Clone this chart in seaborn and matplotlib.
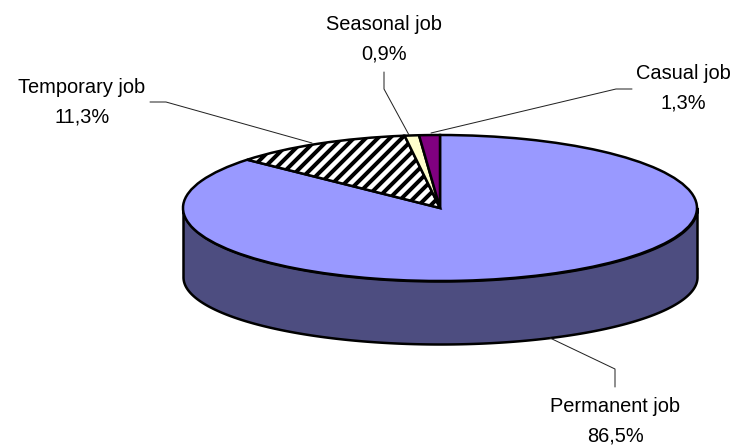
import numpy as np
import seaborn as sns
from matplotlib import pyplot as plt

jobs = ['Permanent job', 'Temporary job', 'Seasonal job', 'Casual job']
shares = [86.5, 11.3, 0.9, 1.3]
top_colors = ['#9999FF', '#FFFFFF', '#FFFFCC', '#800080']
side_color = '#4D4D80'

# label centres and leader lines, in pixels of the image
label_pos = [(615, 421), (82, 102), (384, 39), (683, 88)]
leaders = [
    [(615, 387), (615, 369), (550, 338)],
    [(150, 102), (166, 102), (312, 143)],
    [(384, 72), (384, 89), (409, 135)],
    [(632, 89), (616, 89), (431, 133)],
]

W, H = 733, 447
cx, cy, rx, ry = 440, 208, 257, 73


def to_unit(px, py):
    return (px - cx) / rx, (cy - py) / ry


sns.set_theme(style='white')
plt.rcParams['font.family'] = ['Liberation Sans', 'DejaVu Sans']
plt.rcParams['hatch.linewidth'] = 4

fig = plt.figure(figsize=(W / 72, H / 72), dpi=72)
ax = fig.add_axes([0, 0, 1, 1])

# side of the disc
t = np.linspace(np.pi, 2 * np.pi, 200)
ax.fill_between(np.cos(t), np.sin(t), -69 / ry + 67 / ry * np.sin(t),
                color=side_color, ec='black', lw=2.5, zorder=1)

wedges, _ = ax.pie(shares, colors=top_colors, startangle=90, counterclock=False,
                   wedgeprops={'edgecolor': 'black', 'linewidth': 2.5, 'zorder': 2})
wedges[1].set_hatch('//')

ax.set_aspect('auto')
ax.set_xlim(to_unit(0, 0)[0], to_unit(W, 0)[0])
ax.set_ylim(to_unit(0, H)[1], to_unit(0, 0)[1])
ax.axis('off')

for name, val, pos, line in zip(jobs, shares, label_pos, leaders):
    txt = name + '\n' + f'{val:.1f}'.replace('.', ',') + '%'
    x, y = to_unit(*pos)
    ax.text(x, y, txt, ha='center', va='center', fontsize=20, color='black',
            linespacing=1.7, zorder=5)
    pts = np.array([to_unit(*p) for p in line])
    ax.plot(pts[:, 0], pts[:, 1], color='#222222', lw=1, zorder=3)

fig.savefig('out.png', dpi=72)
